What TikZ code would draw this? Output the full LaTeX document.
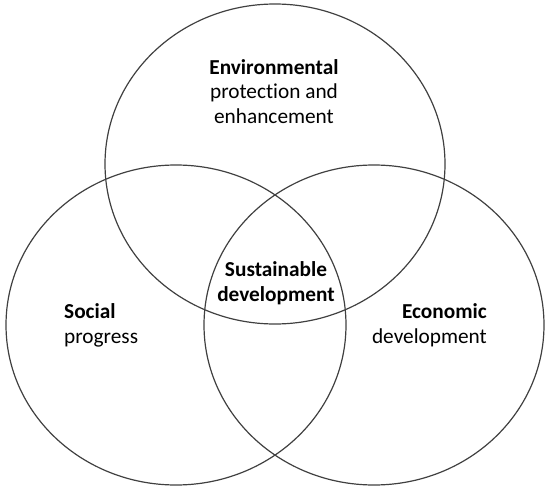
\documentclass[tikz,border=0pt]{standalone}
\usepackage{fontspec}
\setmainfont{Carlito}[Ligatures=NoCommon]
\usetikzlibrary{shapes.geometric}
\begin{document}
\begin{tikzpicture}[x=1pt,y=-1pt,
  ring/.style={ellipse, draw=black!75, line width=1.2pt, minimum width=340pt, minimum height=320pt, inner sep=0pt},
  lbl/.style={inner sep=0pt, font=\fontsize{21.3}{24.5}\selectfont}]
\useasboundingbox (0,0) rectangle (550,493);
\node[ring] (env) at (275,164) {};
\node[ring] (soc) at (176,325) {};
\node[ring] (eco) at (374,325) {};
\node[lbl, align=center, anchor=base] (envt) at (274,123) {\textbf{Environmental}\\protection and\\enhancement};
\node[lbl, align=left, anchor=base west] (soct) at (64,343) {\textbf{Social}\\progress};
\node[lbl, align=right, anchor=base east] (ecot) at (487,343) {\textbf{Economic}\\development};
\node[lbl, align=center, anchor=base] (sust) at (276,301) {\textbf{Sustainable}\\\textbf{development}};
\end{tikzpicture}
\end{document}
